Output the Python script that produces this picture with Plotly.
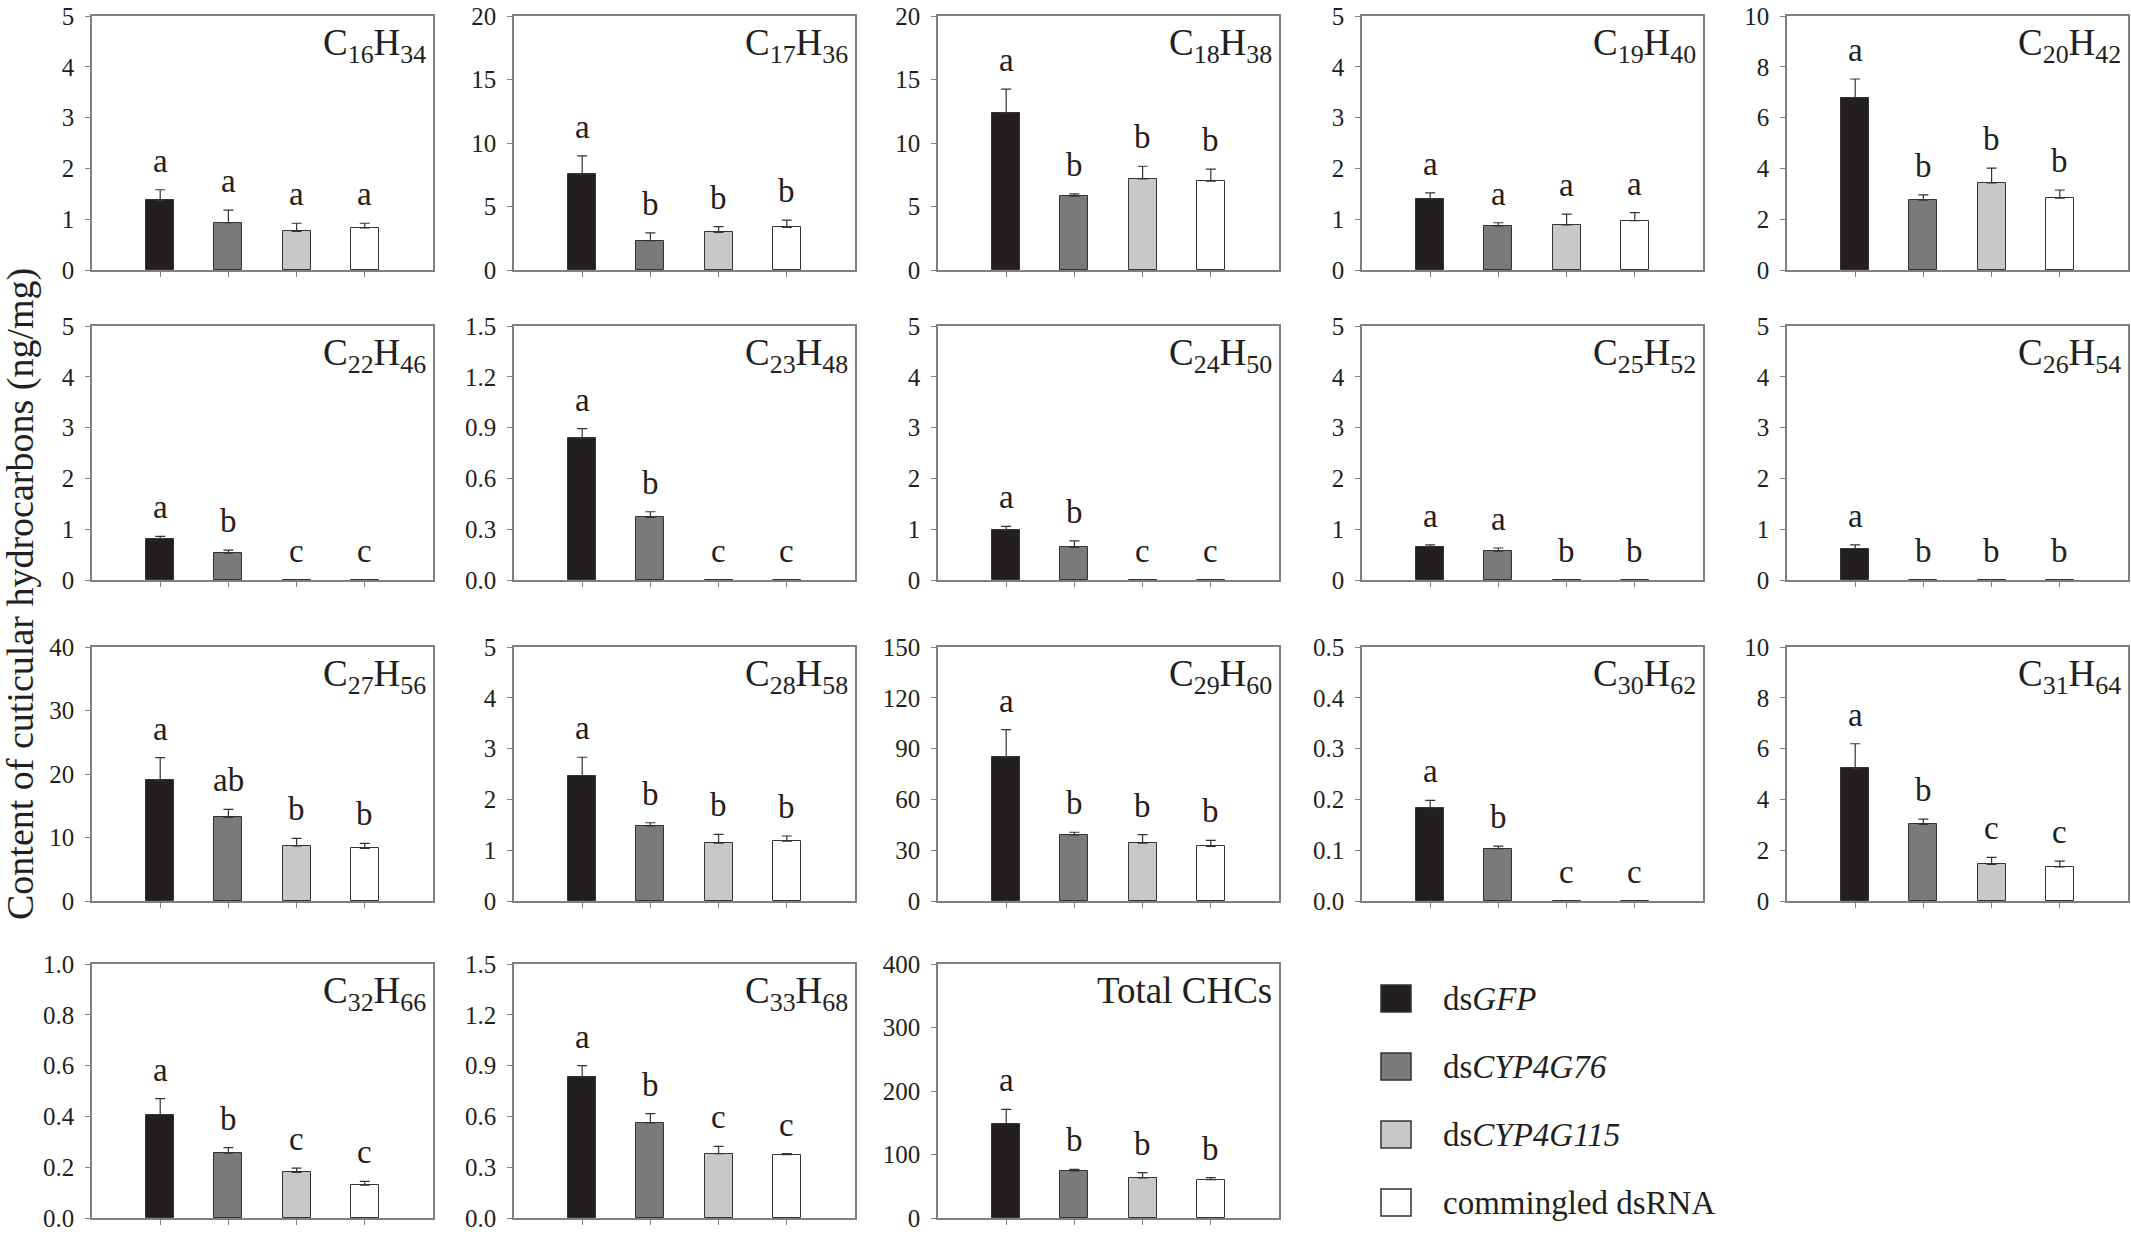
import plotly.graph_objects as go

# panel names (top-right labels) and y axis scales
compounds = ["C<sub>16</sub>H<sub>34</sub>", "C<sub>17</sub>H<sub>36</sub>", "C<sub>18</sub>H<sub>38</sub>",
             "C<sub>19</sub>H<sub>40</sub>", "C<sub>20</sub>H<sub>42</sub>", "C<sub>22</sub>H<sub>46</sub>",
             "C<sub>23</sub>H<sub>48</sub>", "C<sub>24</sub>H<sub>50</sub>", "C<sub>25</sub>H<sub>52</sub>",
             "C<sub>26</sub>H<sub>54</sub>", "C<sub>27</sub>H<sub>56</sub>", "C<sub>28</sub>H<sub>58</sub>",
             "C<sub>29</sub>H<sub>60</sub>", "C<sub>30</sub>H<sub>62</sub>", "C<sub>31</sub>H<sub>64</sub>",
             "C<sub>32</sub>H<sub>66</sub>", "C<sub>33</sub>H<sub>68</sub>", "Total CHCs"]
y_max = [5, 20, 20, 5, 10, 5, 1.5, 5, 5, 5, 40, 5, 150, 0.5, 10, 1.0, 1.5, 400]
y_step = [1, 5, 5, 1, 2, 1, 0.3, 1, 1, 1, 10, 1, 30, 0.1, 2, 0.2, 0.3, 100]

treatments = ["ds<i>GFP</i>", "ds<i>CYP4G76</i>", "ds<i>CYP4G115</i>", "commingled dsRNA"]
bar_colors = ["#231f20", "#7a7a7a", "#c8c8c8", "#ffffff"]

# means (ng/mg) per treatment, one value per panel
gfp_mean = [1.37, 7.54, 12.35, 1.40, 6.79, 0.81, 0.837, 0.98, 0.65, 0.62,
            19.05, 2.47, 85.0, 0.184, 5.22, 0.407, 0.833, 148.6]
cyp76_mean = [0.93, 2.31, 5.81, 0.87, 2.75, 0.53, 0.37, 0.64, 0.57, 0,
              13.18, 1.48, 39.0, 0.103, 3.02, 0.255, 0.561, 74.0]
cyp115_mean = [0.76, 2.97, 7.17, 0.89, 3.43, 0, 0, 0, 0, 0,
               8.66, 1.14, 34.1, 0, 1.44, 0.18, 0.38, 63.0]
mix_mean = [0.83, 3.36, 6.99, 0.97, 2.83, 0, 0, 0, 0, 0,
            8.29, 1.18, 32.3, 0, 1.34, 0.129, 0.374, 60.4]

# standard errors
gfp_se = [0.21, 1.45, 1.89, 0.12, 0.73, 0.05, 0.057, 0.075, 0.04, 0.07,
          3.52, 0.36, 16.2, 0.014, 0.97, 0.063, 0.067, 22.4]
cyp76_se = [0.25, 0.61, 0.18, 0.06, 0.21, 0.06, 0.033, 0.13, 0.06, 0,
            1.26, 0.06, 1.6, 0.005, 0.20, 0.022, 0.055, 2.6]
cyp115_se = [0.16, 0.45, 1.00, 0.21, 0.58, 0, 0, 0, 0, 0,
             1.21, 0.17, 5.1, 0, 0.28, 0.016, 0.043, 8.4]
mix_se = [0.09, 0.56, 0.95, 0.16, 0.32, 0, 0, 0, 0, 0,
          0.79, 0.10, 3.5, 0, 0.23, 0.015, 0.006, 3.1]

# significance letters
gfp_letter = ["a"] * 18
cyp76_letter = ["a", "b", "b", "a", "b", "b", "b", "b", "a", "b",
                "ab", "b", "b", "b", "b", "b", "b", "b"]
cyp115_letter = ["a", "b", "b", "a", "b", "c", "c", "c", "b", "b",
                 "b", "b", "b", "c", "c", "c", "c", "b"]
mix_letter = ["a", "b", "b", "a", "b", "c", "c", "c", "b", "b",
              "b", "b", "b", "c", "c", "c", "c", "b"]

W, H = 2131, 1236
col_left = [92, 514, 938, 1362, 1787]
row_top = [16, 326, 647, 964]
panel_w, panel_h = 341, 254

FONT = "Liberation Serif"
INK = "#231f20"
AXIS = "#808080"

fig = go.Figure()
layout_axes = {}
annotations = []

for i, name in enumerate(compounds):
    row, col = divmod(i, 5)
    n = "" if i == 0 else str(i + 1)
    means = [gfp_mean[i], cyp76_mean[i], cyp115_mean[i], mix_mean[i]]
    ses = [gfp_se[i], cyp76_se[i], cyp115_se[i], mix_se[i]]
    letters = [gfp_letter[i], cyp76_letter[i], cyp115_letter[i], mix_letter[i]]
    xs = [1, 2, 3, 4]

    fig.add_trace(go.Bar(
        x=xs, y=means, width=0.41, xaxis="x" + n, yaxis="y" + n,
        marker=dict(color=bar_colors, line=dict(color="#333333", width=1)),
        error_y=dict(type="data", symmetric=False, array=ses, arrayminus=[0] * 4,
                     color="#333333", thickness=1.2, width=5),
        showlegend=False, hoverinfo="skip"))

    x0 = col_left[col] / W
    x1 = (col_left[col] + panel_w) / W
    y1 = 1 - row_top[row] / H
    y0 = 1 - (row_top[row] + panel_h) / H
    fmt = ".1f" if y_max[i] in (1.5, 0.5, 1.0) else ""
    layout_axes["xaxis" + n] = dict(
        domain=[x0, x1], range=[0, 5], anchor="y" + n, tickvals=xs, showticklabels=False,
        ticks="outside", ticklen=5, tickwidth=1.2, tickcolor=AXIS, automargin=False,
        showline=True, linecolor=AXIS, linewidth=1.5, mirror=True,
        showgrid=False, zeroline=False, fixedrange=True)
    layout_axes["yaxis" + n] = dict(
        domain=[y0, y1], range=[0, y_max[i]], anchor="x" + n, dtick=y_step[i], tick0=0,
        tickformat=fmt, ticks="outside", ticklen=5, tickwidth=1.2, tickcolor=AXIS,
        ticklabelstandoff=6, ticklabeloverflow="allow", automargin=False,
        tickfont=dict(family=FONT, size=25, color=INK),
        showline=True, linecolor=AXIS, linewidth=1.5, mirror=True,
        showgrid=False, zeroline=False, fixedrange=True)

    annotations.append(dict(
        text=name, xref="x" + n + " domain", yref="y" + n + " domain", x=1, y=1,
        xanchor="right", yanchor="top", xshift=-5, yshift=-4, showarrow=False,
        font=dict(family=FONT, size=37, color=INK)))

    for xv, m, s, lt in zip(xs, means, ses, letters):
        annotations.append(dict(
            text=lt, x=xv, y=m + s, xref="x" + n, yref="y" + n,
            xanchor="center", yanchor="bottom", yshift=9, showarrow=False,
            font=dict(family=FONT, size=33, color=INK)))

# shared y axis title
annotations.append(dict(
    text="Content of cuticular hydrocarbons (ng/mg)", textangle=-90,
    xref="paper", yref="paper", x=20 / W, y=1 - 594 / H,
    xanchor="center", yanchor="middle", showarrow=False,
    font=dict(family=FONT, size=38, color=INK)))

# legend drawn in the empty area of the last row
shapes = []
for k, (label, c) in enumerate(zip(treatments, bar_colors)):
    top = 985 + 68 * k
    shapes.append(dict(type="rect", xref="paper", yref="paper",
                       x0=1381 / W, x1=1411 / W, y0=1 - (top + 27) / H, y1=1 - top / H,
                       fillcolor=c, line=dict(color="#333333", width=1.5)))
    annotations.append(dict(
        text=label, xref="paper", yref="paper", x=1441 / W, y=1 - (top + 14) / H,
        xanchor="left", yanchor="middle", showarrow=False,
        font=dict(family=FONT, size=33, color=INK)))

fig.update_layout(
    width=W, height=H, margin=dict(l=0, r=0, t=0, b=0, autoexpand=False),
    paper_bgcolor="white", plot_bgcolor="white",
    annotations=annotations, shapes=shapes, bargap=0,
    **layout_axes)

fig.write_html("out.html", config={"responsive": False, "displayModeBar": False},
               post_script="document.body.style.margin='0';document.body.style.overflow='hidden';")
